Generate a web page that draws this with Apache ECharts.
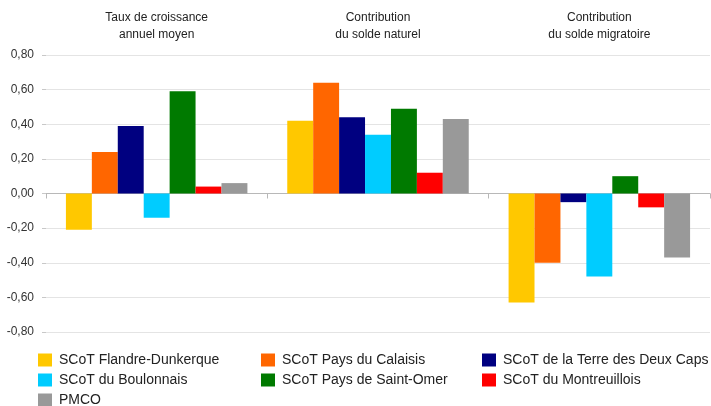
<!DOCTYPE html>
<html>
<head>
<meta charset="utf-8">
<script src="https://cdn.jsdelivr.net/npm/echarts@6/dist/echarts.min.js"></script>
<style>
  html, body { margin: 0; padding: 0; background: #fff; }
  #chart { width: 711px; height: 406px; }
</style>
</head>
<body>
<div id="chart"></div>
<script>
// Indicator groups along the category axis
const categories = [
  'Taux de croissance\nannuel moyen',
  'Contribution\ndu solde naturel',
  'Contribution\ndu solde migratoire'
];

// Territories (one series each)
const seriesNames = [
  'SCoT Flandre-Dunkerque',
  'SCoT Pays du Calaisis',
  'SCoT de la Terre des Deux Caps',
  'SCoT du Boulonnais',
  'SCoT Pays de Saint-Omer',
  'SCoT du Montreuillois',
  'PMCO'
];

// Values per territory: [growth rate, natural balance, migration balance]
const flandreDunkerque = [-0.21, 0.42, -0.63];
const paysCalaisis     = [0.24, 0.64, -0.40];
const terreDeuxCaps    = [0.39, 0.44, -0.05];
const boulonnais       = [-0.14, 0.34, -0.48];
const paysSaintOmer    = [0.59, 0.49, 0.10];
const montreuillois    = [0.04, 0.12, -0.08];
const pmco             = [0.06, 0.43, -0.37];

const seriesValues = [
  flandreDunkerque, paysCalaisis, terreDeuxCaps, boulonnais,
  paysSaintOmer, montreuillois, pmco
];

const colors = ['#FFC800', '#FF6600', '#000080', '#00CCFF', '#007A00', '#FF0000', '#999999'];

// Legend layout: three columns
const legendColumns = [
  ['SCoT Flandre-Dunkerque', 'SCoT du Boulonnais', 'PMCO'],
  ['SCoT Pays du Calaisis', 'SCoT Pays de Saint-Omer'],
  ['SCoT de la Terre des Deux Caps', 'SCoT du Montreuillois']
];
const legendLefts = [38, 261, 482];

const FONT = '"Liberation Sans", Arial, Helvetica, sans-serif';

const chart = echarts.init(document.getElementById('chart'), null, { renderer: 'canvas' });

chart.setOption({
  backgroundColor: '#ffffff',
  animation: false,
  color: colors,
  textStyle: { fontFamily: FONT },
  grid: { left: 46, right: 1, top: 55, bottom: 74, containLabel: false },
  legend: legendColumns.map((names, i) => ({
    data: names,
    orient: 'vertical',
    left: legendLefts[i],
    top: 352,
    width: 230,
    height: 80,
    padding: 0,
    itemGap: 4,
    itemWidth: 14,
    itemHeight: 13,
    icon: 'rect',
    selectedMode: false,
    textStyle: {
      fontFamily: FONT,
      fontSize: 14,
      color: '#222',
      lineHeight: 16,
      padding: [0, 0, 0, 2]
    }
  })),
  xAxis: [
    {
      type: 'category',
      data: categories,
      axisLine: { onZero: true, lineStyle: { color: '#b8b8b8', width: 1 } },
      axisTick: { show: true, length: 5, lineStyle: { color: '#b8b8b8' } },
      axisLabel: { show: false },
      splitLine: { show: false }
    },
    {
      type: 'category',
      position: 'top',
      data: categories,
      axisLine: { show: false },
      axisTick: { show: false },
      axisLabel: {
        show: true,
        interval: 0,
        margin: 12,
        fontFamily: FONT,
        fontSize: 12,
        lineHeight: 17,
        color: '#222'
      }
    }
  ],
  yAxis: {
    type: 'value',
    min: -0.8,
    max: 0.8,
    interval: 0.2,
    axisLine: { show: false },
    axisTick: { show: true, length: 4, lineStyle: { color: '#c8c8c8' } },
    axisLabel: {
      margin: 12,
      fontFamily: FONT,
      fontSize: 12,
      color: '#333',
      formatter: v => (Math.abs(v) < 1e-9 ? 0 : v).toFixed(2).replace('.', ',')
    },
    splitLine: { show: true, lineStyle: { color: '#e4e4e4', width: 1 } }
  },
  series: seriesNames.map((name, i) => ({
    name: name,
    type: 'bar',
    xAxisIndex: 0,
    data: seriesValues[i],
    barGap: '0%',
    barCategoryGap: '18%',
    itemStyle: { color: colors[i] }
  }))
});
</script>
</body>
</html>
